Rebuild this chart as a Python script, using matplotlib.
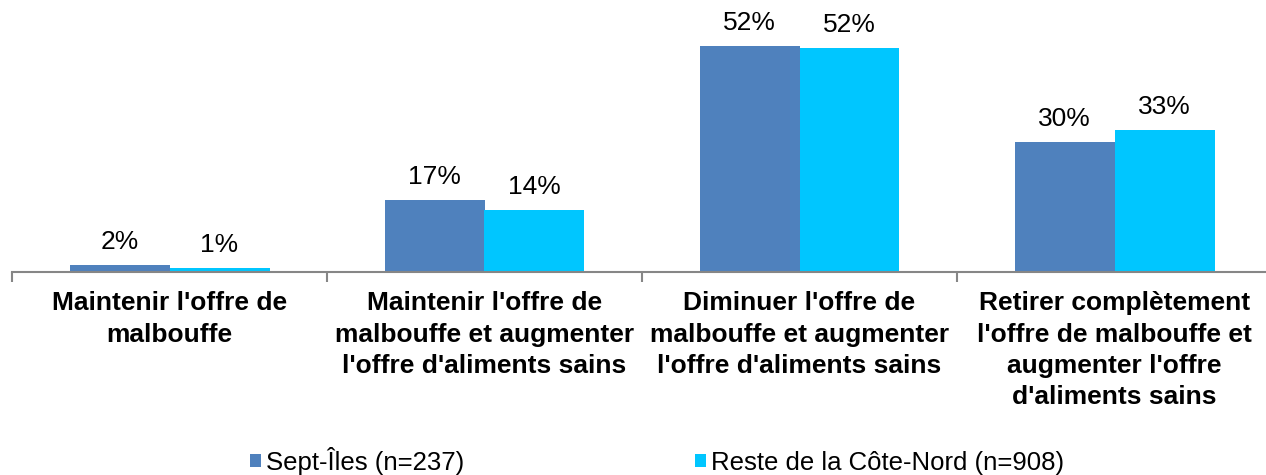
import matplotlib.pyplot as plt
import numpy as np
from matplotlib.patches import Patch

plt.rcParams["font.family"] = ["Liberation Sans", "DejaVu Sans"]

categories = ["Maintenir l'offre de\nmalbouffe",
              "Maintenir l'offre de\nmalbouffe et augmenter\nl'offre d'aliments sains",
              "Diminuer l'offre de\nmalbouffe et augmenter\nl'offre d'aliments sains",
              "Retirer complètement\nl'offre de malbouffe et\naugmenter l'offre\nd'aliments sains"]
series_names = ["Sept-Îles (n=237)", "Reste de la Côte-Nord (n=908)"]
sept_iles = [1.6, 16.6, 52.3, 30.2]
reste = [0.9, 14.4, 51.9, 32.8]
colors = ["#4F81BD", "#00C6FF"]

fig = plt.figure(figsize=(12.66, 4.75), dpi=100)
ax = fig.add_axes([12 / 1266, (475 - 272) / 475, 1260 / 1266, 272 / 475])

x = np.arange(len(categories))
w = 100 / 315
for vals, off, c in [(sept_iles, -w / 2, colors[0]), (reste, w / 2, colors[1])]:
    bars = ax.bar(x + off, vals, width=w, color=c, edgecolor="none")
    for b, v in zip(bars, vals):
        ax.annotate(f"{v:.0f}%", (b.get_x() + b.get_width() / 2, v),
                    xytext=(0, 8), textcoords="offset points",
                    ha="center", va="bottom", fontsize=19)

ax.set_xlim(-0.5, 3.5)
ax.set_ylim(0, 63)
ax.set_yticks([])
for s in ["top", "right", "left"]:
    ax.spines[s].set_visible(False)
ax.spines["bottom"].set_color("#868686")
ax.spines["bottom"].set_linewidth(1.5)

ax.set_xticks(x)
ax.set_xticklabels(categories, fontsize=19, fontweight="bold", linespacing=1.38)
ax.tick_params(axis="x", which="major", length=0, pad=14)
ax.set_xticks(np.arange(-0.5, 4, 1), minor=True)
ax.tick_params(axis="x", which="minor", length=7, width=1.5, color="#868686")

handles = [Patch(facecolor=c, edgecolor="none") for c in colors]
fig.legend(handles, series_names, loc="center", bbox_to_anchor=(0.519, (475 - 461) / 475),
           ncol=2, frameon=False, fontsize=18.5, handlelength=0.42, handleheight=0.42,
           handletextpad=0.2, columnspacing=9.0, borderpad=0)

fig.savefig("out.png", dpi=100)
